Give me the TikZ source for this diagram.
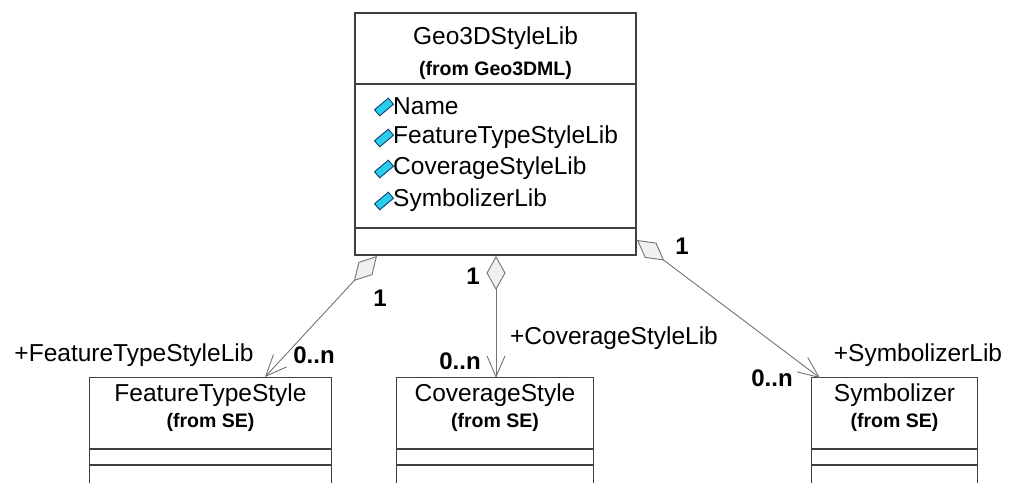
\documentclass[tikz,border=0pt]{standalone}
\usepackage{fontspec}
\setmainfont{Liberation Sans}
\usetikzlibrary{arrows.meta}
\definecolor{iconfill}{RGB}{40,205,235}
\definecolor{iconline}{RGB}{20,60,110}

\begin{document}
\begin{tikzpicture}[
      x=1pt, y=-1pt,
      class box/.style={draw=black!75,line width=1.2pt,inner sep=0pt},
      class area/.style={inner sep=0pt},
      class line/.style={draw=black!75,line width=1.2pt},
      class name/.style={font=\fontsize{24.5}{28}\selectfont,inner sep=0pt},
      from name/.style={font=\fontsize{19.5}{23}\selectfont\bfseries,inner sep=0pt},
      attr/.style={font=\fontsize{24.5}{28}\selectfont,inner sep=0pt,anchor=west},
      attr icon/.style={draw=iconline,fill=iconfill,line width=.9pt,
        minimum width=18pt,minimum height=8pt,inner sep=0pt,rotate=40},
      role/.style={font=\fontsize{24.5}{28}\selectfont,inner sep=0pt},
      mult/.style={font=\fontsize{24}{28}\selectfont\bfseries,inner sep=0pt},
      assoc/.style={draw=black!55,line width=.9pt,
        {Diamond[length=34pt,width=19pt,fill=black!6]}-{Straight Barb[length=21pt,width=18pt]}}
      ]
      \useasboundingbox (0,0) rectangle (1011,483);
      % Geo3DStyleLib
      \node [class box,minimum width=281pt,minimum height=242pt] (lib) at (495.5,134) {};
      \node [class name] (libName) at (495.5,38) {Geo3DStyleLib};
      \node [from name] (libFrom) at (495.5,70) {(from Geo3DML)};
      \draw [class line] (355,84) -- (636,84);
      \draw [class line] (355,228) -- (636,228);
      % attributes
      \foreach \y/\N [count=\i] in {106/Name,137/FeatureTypeStyleLib,168/CoverageStyleLib,200/SymbolizerLib} {
          \node [attr icon] (icon\i) at (384,\y+1) {};
          \node [attr] (attr\i) at (393,\y) {\N};
      }
      % FeatureTypeStyle
      \node [class area,minimum width=241pt,minimum height=105pt] (fts) at (210.5,430.5) {};
      \draw [class line] (fts.south west) |- (fts.north east) -- (fts.south east);
      \draw [class line] (90,449) -- (331,449);
      \draw [class line] (90,465) -- (331,465);
      \node [class name] (ftsName) at (210.5,395) {FeatureTypeStyle};
      \node [from name] (ftsFrom) at (210.5,422) {(from SE)};
      % CoverageStyle
      \node [class area,minimum width=196pt,minimum height=105pt] (cs) at (495,430.5) {};
      \draw [class line] (cs.south west) |- (cs.north east) -- (cs.south east);
      \draw [class line] (397,449) -- (593,449);
      \draw [class line] (397,465) -- (593,465);
      \node [class name] (csName) at (495,395) {CoverageStyle};
      \node [from name] (csFrom) at (495,422) {(from SE)};
      % Symbolizer
      \node [class area,minimum width=165pt,minimum height=105pt] (sym) at (894.5,430.5) {};
      \draw [class line] (sym.south west) |- (sym.north east) -- (sym.south east);
      \draw [class line] (812,449) -- (977,449);
      \draw [class line] (812,465) -- (977,465);
      \node [class name] (symName) at (894.5,395) {Symbolizer};
      \node [from name] (symFrom) at (894.5,422) {(from SE)};
      % association ends
      \coordinate (libL) at (377,256);
      \coordinate (libM) at (496,256);
      \coordinate (libR) at (637,240);
      \coordinate (ftsTop) at (265,377);
      \coordinate (csTop) at (496,378);
      \coordinate (symTop) at (820,378);
      % associations
      \draw [assoc] (libL) -- (ftsTop);
      \draw [assoc] (libM) -- (csTop);
      \draw [assoc] (libR) -- (symTop);
      % labels
      \node [mult] (m1) at (380,298) {1};
      \node [mult] (n1) at (314,355) {0..n};
      \node [role] (r1) at (134,355) {+FeatureTypeStyleLib};
      \node [mult] (m2) at (473,276) {1};
      \node [mult] (n2) at (460,361) {0..n};
      \node [role] (r2) at (614,338) {+CoverageStyleLib};
      \node [mult] (m3) at (682,246) {1};
      \node [mult] (n3) at (772,378) {0..n};
      \node [role] (r3) at (918,355) {+SymbolizerLib};
    \end{tikzpicture}
\end{document}
